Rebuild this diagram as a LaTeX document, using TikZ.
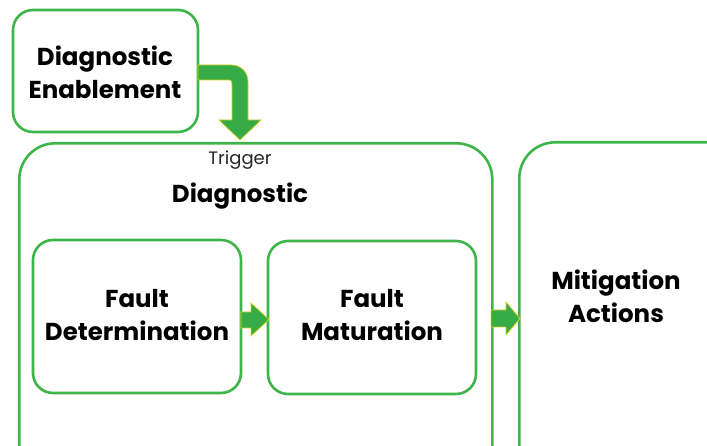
\documentclass[tikz,border=0pt]{standalone}
\usepackage{fontspec}
\setmainfont{Poppins}
\definecolor{gline}{HTML}{3DB54A}
\definecolor{gfill}{HTML}{37AB47}
\definecolor{yline}{HTML}{D6D21A}
\begin{document}
\begin{tikzpicture}[x=1pt,y=-1pt,
  box/.style={draw=gline, line width=2.6pt, rounded corners=#1, fill=white},
  box/.default=20pt,
  lbl/.style={font=\bfseries\fontsize{24.5}{33}\selectfont, align=center, text=black, inner sep=0pt},
  garrow/.style={fill=gfill, draw=yline, line width=0.7pt, line join=miter}]
\useasboundingbox (0,0) rectangle (707,446);
\clip (0,0) rectangle (707,446);
% boxes
\node[box, minimum width=185pt, minimum height=122pt] (enab) at (105.5,71) {};
\node[box=36pt, minimum width=473pt, minimum height=360pt, anchor=north west] (diag) at (18,142) {};
\node[box=36pt, minimum width=240pt, minimum height=360pt, anchor=north west] (mitig) at (518,141) {};
\node[box, minimum width=208pt, minimum height=153pt] (fd) at (137,316.5) {};
\node[box, minimum width=208pt, minimum height=153pt] (fm) at (372,317.5) {};
% texts
\node[lbl] (enabt) at (105,72) {Diagnostic\\Enablement};
\node[lbl] (fdt) at (137,315) {Fault\\Determination};
\node[lbl] (fmt) at (372,315) {Fault\\Maturation};
\node[font=\fontsize{18}{20}\selectfont, text=black!85, inner sep=0pt] (trig) at (240,160) {Trigger};
\node[lbl] (diagt) at (240,196) {Diagnostic};
\node[lbl] (mitt) at (616,296) {Mitigation\\Actions};
% bent arrow from enablement to diagnostic
\draw[garrow] (198,65) -- (231,65) .. controls (241,65) and (248,72) .. (248,82)
  -- (248,120) -- (261,120) -- (240,140) -- (219,120) -- (232,120) -- (232,84)
  .. controls (232,81) and (231,80) .. (229,80) -- (198,80) -- cycle;
% straight arrows
\draw[garrow] (241,312) -- (251,312) -- (251,303) -- (269,319.5) -- (251,336) -- (251,328) -- (241,328) -- cycle;
\draw[garrow] (491,310) -- (506,310) -- (506,302) -- (520,318.5) -- (506,335) -- (506,327) -- (491,327) -- cycle;
\end{tikzpicture}
\end{document}
